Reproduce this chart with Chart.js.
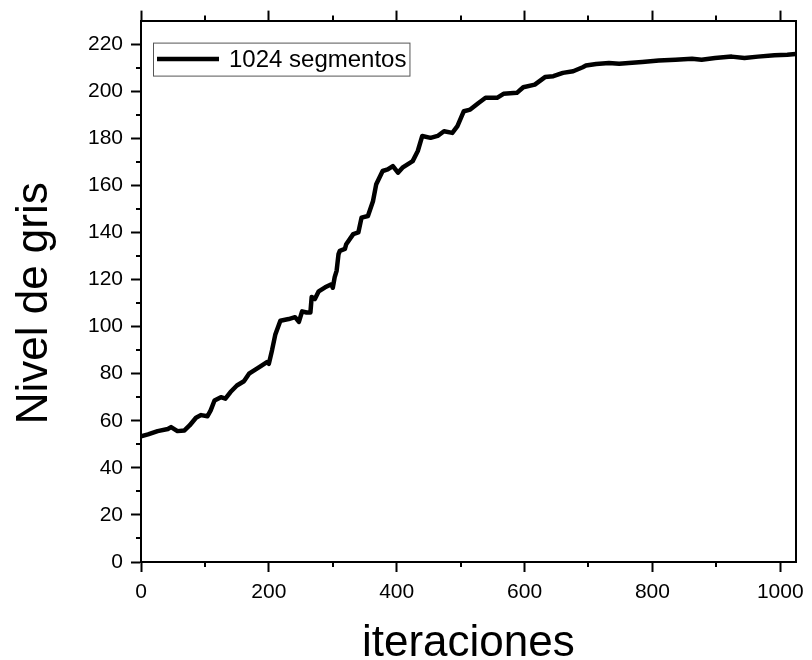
<!DOCTYPE html>
<html>
<head>
<meta charset="utf-8">
<script src="https://cdn.jsdelivr.net/npm/chart.js@4/dist/chart.umd.min.js"></script>
<style>
  html, body { margin: 0; padding: 0; background: #ffffff; }
  #wrap { width: 812px; height: 660px; position: relative; }
</style>
</head>
<body>
<div id="wrap"><canvas id="c" width="812" height="660"></canvas></div>
<script>
// Mean grey level of the image per iteration (1024 segments)
const iterations = [
  0, 11, 26, 42, 47, 57, 68, 76, 86, 94, 104, 109, 115, 125, 132, 140, 150, 161,
  169, 185, 197, 200, 205, 210, 218, 231, 241, 247, 252, 259, 265, 267, 272, 278,
  288, 298, 300, 303, 306, 309, 311, 319, 321, 332, 340, 345, 355, 363, 368, 378,
  386, 394, 402, 409, 425, 433, 440, 453, 464, 474, 487, 495, 505, 515, 528, 539,
  557, 567, 588, 598, 616, 632, 645, 660, 676, 691, 696, 712, 732, 748, 763, 784,
  810, 836, 862, 877, 898, 924, 944, 965, 991, 1011, 1024
];
const grayLevel = [
  53.4, 54.2, 55.6, 56.5, 57.3, 55.6, 55.9, 58.0, 61.3, 62.4, 61.9, 64.4, 68.6, 70.0, 69.4, 72.2, 75.0, 76.8,
  80.0, 82.8, 84.9, 84.2, 90.0, 96.5, 102.5, 103.2, 104.0, 102.0, 106.5, 106.0, 106.0, 112.6, 111.7, 115.0,
  116.7, 118.0, 116.5, 121.0, 123.7, 130.8, 132.2, 133.0, 135.0, 139.3, 140.0, 146.3, 147.0, 153.4, 160.5, 166.1,
  166.8, 168.2, 165.4, 167.5, 170.3, 174.6, 181.0, 180.2, 181.0, 183.0, 182.3, 185.2, 191.5, 192.2, 195.0, 197.2,
  197.2, 198.9, 199.3, 201.7, 202.8, 206.0, 206.4, 207.8, 208.5, 210.2, 210.9, 211.6, 212.0, 211.7, 212.0, 212.4,
  213.0, 213.4, 213.8, 213.4, 214.1, 214.7, 214.1, 214.7, 215.3, 215.5, 215.8
];
const seriesLabel = '1024 segmentos';
const xTitle = 'iteraciones';
const yTitle = 'Nivel de gris';

// Axis ticks
const xMajorTicks = [0, 200, 400, 600, 800, 1000];
const xMinorTicks = [100, 300, 500, 700, 900];
const yMajorTicks = [0, 20, 40, 60, 80, 100, 120, 140, 160, 180, 200, 220];
const yMinorTicks = [10, 30, 50, 70, 90, 110, 130, 150, 170, 190, 210];

const FONT = '"Liberation Sans", Arial, Helvetica, sans-serif';
const INK = '#000000';

const setTicks = (values) => (scale) => { scale.ticks = values.map(v => ({ value: v })); };

// Short outward ticks between the labelled ones
const minorTicks = {
  id: 'minorTicks',
  afterDraw(chart) {
    const { ctx, chartArea: a, scales } = chart;
    ctx.save();
    ctx.strokeStyle = INK;
    ctx.lineWidth = 2;
    ctx.beginPath();
    xMinorTicks.forEach(v => {
      const px = Math.round(scales.x.getPixelForValue(v));
      ctx.moveTo(px, a.bottom); ctx.lineTo(px, a.bottom + 5);
      ctx.moveTo(px, a.top); ctx.lineTo(px, a.top - 5);
    });
    yMinorTicks.forEach(v => {
      const py = Math.round(scales.y.getPixelForValue(v));
      ctx.moveTo(a.left, py); ctx.lineTo(a.left - 5, py);
    });
    ctx.stroke();
    ctx.restore();
  }
};

// Vertical axis title, set a little below the middle of the axis
const yAxisTitle = {
  id: 'yAxisTitle',
  afterDraw(chart) {
    const { ctx, chartArea: a } = chart;
    ctx.save();
    ctx.translate(35, (a.top + a.bottom) / 2 + 12);
    ctx.rotate(-Math.PI / 2);
    ctx.font = '44px ' + FONT;
    ctx.fillStyle = INK;
    ctx.textAlign = 'center';
    ctx.textBaseline = 'middle';
    ctx.fillText(yTitle, 0, 0);
    ctx.restore();
  }
};

// Framed legend in the upper-left corner of the plot
const boxedLegend = {
  id: 'boxedLegend',
  afterDraw(chart) {
    const { ctx, chartArea: a } = chart;
    const ds = chart.data.datasets[0];
    ctx.save();
    ctx.font = '24px ' + FONT;
    const tw = ctx.measureText(ds.label).width;
    const x0 = a.left + 12, y0 = a.top + 22, h = 33;
    const w = 76 + tw + 3;
    ctx.fillStyle = '#ffffff';
    ctx.fillRect(x0, y0, w, h);
    ctx.strokeStyle = '#555555';
    ctx.lineWidth = 1;
    ctx.strokeRect(x0 + 0.5, y0 + 0.5, w, h);
    const cy = y0 + h / 2;
    ctx.strokeStyle = ds.borderColor;
    ctx.lineWidth = ds.borderWidth;
    ctx.beginPath();
    ctx.moveTo(x0 + 4, cy); ctx.lineTo(x0 + 66, cy);
    ctx.stroke();
    ctx.fillStyle = INK;
    ctx.textBaseline = 'middle';
    ctx.fillText(ds.label, x0 + 76, cy + 1);
    ctx.restore();
  }
};

const axisGrid = {
  display: true,
  drawOnChartArea: false,
  drawTicks: true,
  tickLength: 10,
  tickWidth: 2,
  tickColor: INK
};
const axisBorder = { display: true, color: INK, width: 2 };
const plainNumber = (v) => String(v);

new Chart(document.getElementById('c'), {
  type: 'line',
  data: {
    datasets: [{
      label: seriesLabel,
      data: iterations.map((it, i) => ({ x: it, y: grayLevel[i] })),
      borderColor: INK,
      borderWidth: 4.5,
      pointRadius: 0,
      tension: 0,
      fill: false,
      borderJoinStyle: 'round',
      borderCapStyle: 'round'
    }]
  },
  options: {
    responsive: false,
    animation: false,
    devicePixelRatio: 1,
    layout: { padding: 0 },
    plugins: {
      legend: { display: false },
      tooltip: { enabled: false }
    },
    scales: {
      x: {
        type: 'linear',
        position: 'bottom',
        min: 0,
        max: 1024,
        afterBuildTicks: setTicks(xMajorTicks),
        afterFit: (s) => { s.height = 98; },
        grid: axisGrid,
        border: axisBorder,
        ticks: {
          color: INK,
          font: { family: FONT, size: 21 },
          padding: 8,
          maxRotation: 0,
          autoSkip: false,
          callback: plainNumber
        },
        title: {
          display: true,
          text: xTitle,
          color: INK,
          font: { family: FONT, size: 44 },
          padding: { top: 0, bottom: -10 }
        }
      },
      xTop: {
        type: 'linear',
        position: 'top',
        min: 0,
        max: 1024,
        afterBuildTicks: setTicks(xMajorTicks),
        afterFit: (s) => { s.height = 20; },
        grid: axisGrid,
        border: axisBorder,
        ticks: { display: false }
      },
      y: {
        type: 'linear',
        position: 'left',
        min: 0,
        max: 230,
        afterBuildTicks: setTicks(yMajorTicks),
        afterFit: (s) => { s.width = 141; },
        grid: axisGrid,
        border: axisBorder,
        ticks: {
          color: INK,
          font: { family: FONT, size: 21 },
          padding: 8,
          autoSkip: false,
          callback: plainNumber
        }
      },
      yRight: {
        type: 'linear',
        position: 'right',
        min: 0,
        max: 230,
        afterFit: (s) => { s.width = 10; },
        grid: { display: false, drawTicks: false },
        border: axisBorder,
        ticks: { display: false }
      }
    }
  },
  plugins: [minorTicks, yAxisTitle, boxedLegend]
});
</script>
</body>
</html>
